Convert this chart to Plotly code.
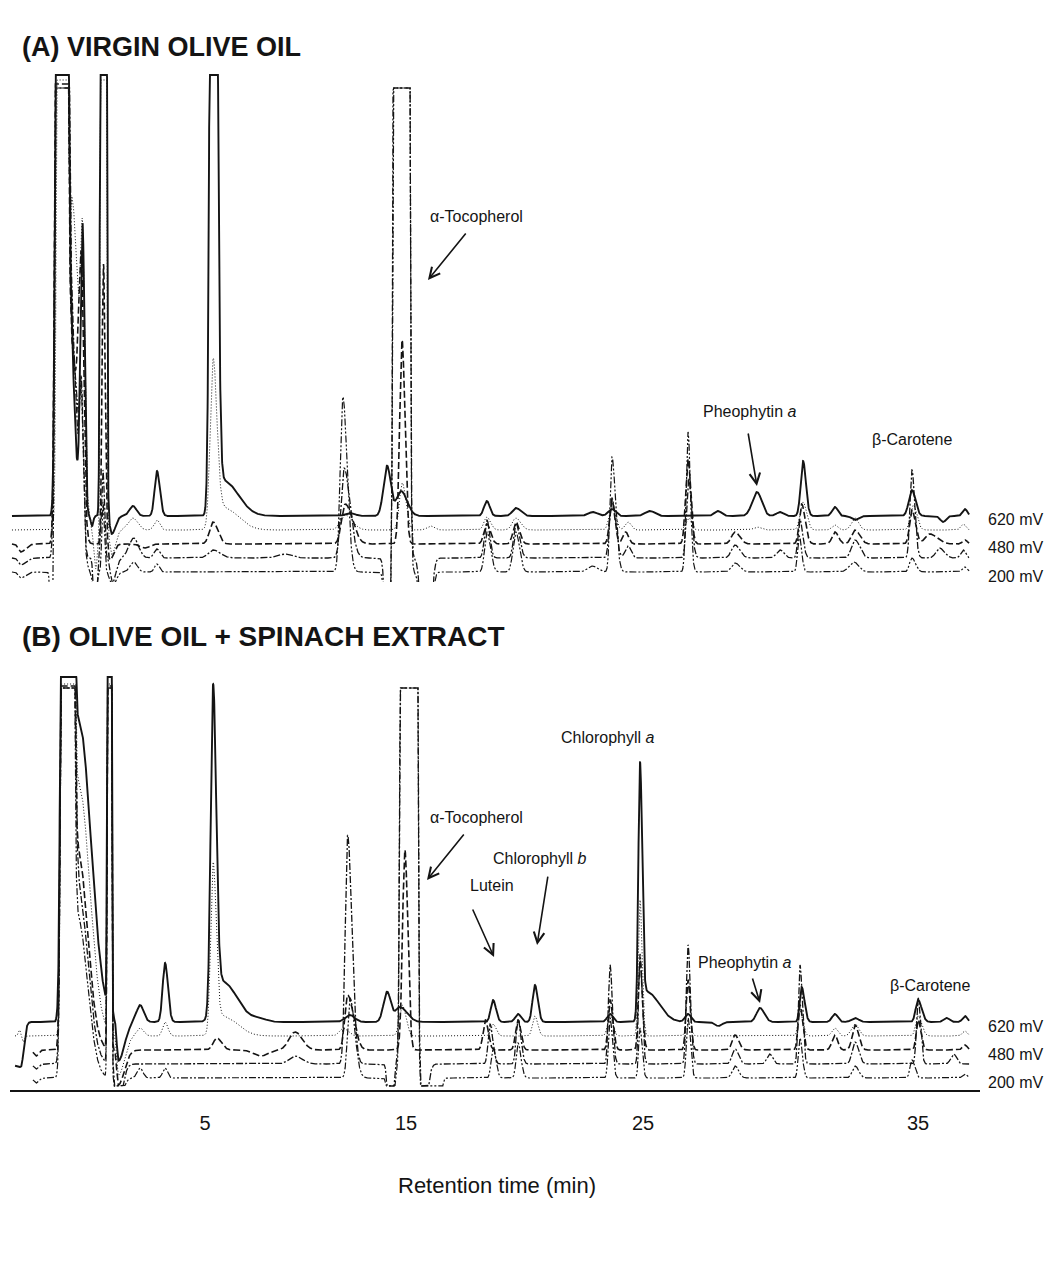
import numpy as np
import plotly.graph_objects as go

# ---------------- data ----------------
# Peaks: (retention position, height, left width, right width); heights in detector units
TRACE_NAMES = ["620 mV (solid)", "dotted", "480 mV (dashed)", "dash-dot", "200 mV (dash-dot-dot)"]

A_BASELINES = [64, 50, 36, 22, 8]
A_CEILINGS = [505, 500, 496, 492, 492]

A_SOLID = [(-1.03, 1e4, 0.11, 0.11), (-0.75, 250, 0.10, 0.20), (-0.15, 290, 0.09, 0.08),
           (0.25, -10, 0.05, 0.05), (0.73, 1e4, 0.06, 0.06), (1.08, -18, 0.08, 0.15),
           (1.97, 10, 0.15, 0.15), (2.98, 45, 0.10, 0.12), (5.34, 1500, 0.10, 0.13),
           (5.80, 35, 0.30, 0.60), (11.1, 3, 0.2, 0.2), (12.66, 50, 0.15, 0.15),
           (13.25, 25, 0.20, 0.25), (16.86, 15, 0.12, 0.12), (18.08, 8, 0.15, 0.20),
           (21.32, 4, 0.2, 0.2), (22.12, 7, 0.15, 0.15), (23.72, 5, 0.2, 0.2),
           (26.58, 5, 0.15, 0.15), (28.22, 24, 0.2, 0.2), (29.19, 4, 0.15, 0.15),
           (30.16, 55, 0.10, 0.12), (31.5, 9, 0.12, 0.12), (32.35, -4, 0.15, 0.15),
           (34.74, 26, 0.13, 0.15), (36.05, -6, 0.12, 0.12), (36.97, 7, 0.10, 0.10)]
A_DOTTED = [(-1.0, 1e4, 0.10, 0.10), (-0.6, 330, 0.10, 0.30), (-0.15, 200, 0.08, 0.08),
            (0.4, -40, 0.08, 0.08), (0.73, 1e4, 0.055, 0.055), (1.08, -25, 0.08, 0.15),
            (1.97, 12, 0.2, 0.2), (2.98, 10, 0.12, 0.12), (5.34, 165, 0.12, 0.16),
            (5.80, 22, 0.30, 0.60), (10.9, 15, 0.2, 0.3), (13.3, 47, 0.12, 0.15),
            (14.5, 4, 0.15, 0.15), (16.86, 13, 0.12, 0.15), (18.08, 12, 0.15, 0.2),
            (22.12, 24, 0.12, 0.15), (22.8, 8, 0.12, 0.12), (25.35, 12, 0.12, 0.12),
            (28.22, 3, 0.15, 0.15), (30.16, 28, 0.12, 0.15), (31.5, 5, 0.12, 0.12),
            (32.35, 12, 0.15, 0.15), (34.8, 25, 0.12, 0.15), (36.9, 6, 0.1, 0.1)]
A_DASHED = [(-2.75, -8, 0.10, 0.20), (-1.05, 1e4, 0.11, 0.12), (-0.65, 200, 0.10, 0.25),
            (-0.2, 250, 0.12, 0.10), (0.73, 280, 0.06, 0.07), (1.0, -16, 0.08, 0.15),
            (2.47, -4, 0.2, 0.2), (5.34, 22, 0.15, 0.20), (10.9, 40, 0.15, 0.30),
            (13.29, 204, 0.10, 0.12), (16.86, 20, 0.12, 0.15), (18.08, 22, 0.12, 0.15),
            (22.12, 44, 0.10, 0.12), (22.7, 12, 0.12, 0.12), (25.32, 85, 0.10, 0.12),
            (27.3, 12, 0.15, 0.2), (30.1, 40, 0.10, 0.15), (31.5, 12, 0.12, 0.15),
            (32.35, 14, 0.15, 0.2), (34.74, 34, 0.10, 0.15), (35.5, 10, 0.2, 0.3),
            (36.97, 4, 0.1, 0.1)]
A_DASHDOT = [(-2.75, -7, 0.10, 0.20), (-1.05, 1e4, 0.11, 0.13), (-0.65, 250, 0.10, 0.22),
             (-0.2, 150, 0.08, 0.08), (0.37, -60, 0.06, 0.08), (0.71, 88, 0.06, 0.06),
             (1.1, -25, 0.08, 0.15), (2.0, 20, 0.2, 0.2), (2.98, 9, 0.12, 0.12),
             (5.34, 8, 0.2, 0.3), (8.37, 4, 0.3, 0.3), (10.85, 90, 0.13, 0.25),
             (12.7, -150, 0.10, 0.08), (13.27, 1e5, 0.11, 0.11), (14.3, -200, 0.15, 0.15),
             (16.86, 38, 0.10, 0.12), (18.08, 35, 0.10, 0.15), (22.12, 60, 0.10, 0.15),
             (22.8, 12, 0.12, 0.12), (25.35, 80, 0.09, 0.12), (27.3, 13, 0.15, 0.2),
             (29.2, 8, 0.15, 0.15), (30.03, 38, 0.08, 0.12), (32.35, 18, 0.15, 0.2),
             (34.74, 88, 0.08, 0.12), (35.9, 10, 0.15, 0.2), (36.9, 8, 0.1, 0.1)]
A_DDOT = [(-2.75, -6, 0.10, 0.20), (-1.45, -100, 0.05, 0.05), (-1.03, 1e4, 0.11, 0.12),
          (-0.6, 230, 0.10, 0.25), (-0.2, 120, 0.08, 0.08), (0.35, -30, 0.07, 0.08),
          (0.71, 70, 0.05, 0.06), (1.1, -15, 0.10, 0.15), (2.0, 10, 0.15, 0.15),
          (2.98, 8, 0.10, 0.10), (10.8, 175, 0.11, 0.18), (12.7, -150, 0.10, 0.08),
          (13.27, 1e5, 0.11, 0.11), (14.3, -200, 0.15, 0.15), (16.86, 40, 0.10, 0.15),
          (18.08, 40, 0.12, 0.15), (21.3, 6, 0.2, 0.2), (22.12, 115, 0.08, 0.15),
          (25.32, 140, 0.08, 0.10), (27.3, 9, 0.15, 0.2), (30.0, 36, 0.07, 0.10),
          (32.3, 10, 0.2, 0.2), (34.74, 14, 0.1, 0.15), (36.97, 5, 0.1, 0.1)]

B_BASELINES = [68, 54, 40, 26, 12]
B_CEILINGS = [413, 406, 404, 402, 402]

B_SOLID = [(-2.75, -45, 1.0, 0.12), (-0.78, 1e4, 0.12, 0.12), (-0.3, 300, 0.2, 0.5),
           (0.98, 1e4, 0.04, 0.04), (1.35, -40, 0.06, 0.25), (2.27, 17, 0.15, 0.15),
           (3.32, 59, 0.10, 0.12), (5.34, 322, 0.10, 0.13), (5.75, 40, 0.3, 0.6),
           (7.3, 3, 0.3, 0.3), (11.1, 7, 0.2, 0.2), (12.66, 30, 0.15, 0.15),
           (13.2, 15, 0.2, 0.3), (17.12, 22, 0.10, 0.12), (18.17, 8, 0.12, 0.12),
           (18.88, 37, 0.10, 0.12), (22.04, 8, 0.12, 0.12), (23.3, 250, 0.07, 0.09),
           (23.6, 30, 0.2, 0.5), (25.32, 8, 0.12, 0.12), (26.6, -4, 0.15, 0.15),
           (28.35, 14, 0.15, 0.18), (30.1, 35, 0.08, 0.12), (31.5, 8, 0.12, 0.12),
           (32.35, 4, 0.15, 0.15), (35.0, 22, 0.10, 0.15), (36.2, 4, 0.12, 0.12),
           (36.97, 6, 0.1, 0.1)]
B_DOTTED = [(-2.8, 6, 0.05, 0.05), (-2.65, -6, 0.05, 0.05), (-0.78, 1e4, 0.11, 0.12),
            (-0.3, 250, 0.2, 0.45), (0.98, 1e4, 0.04, 0.04), (1.35, -40, 0.06, 0.25),
            (2.27, 8, 0.15, 0.15), (3.32, 14, 0.10, 0.12), (5.34, 166, 0.10, 0.13),
            (5.75, 20, 0.3, 0.6), (10.8, 8, 0.15, 0.2), (13.3, 31, 0.12, 0.15),
            (17.12, 12, 0.10, 0.12), (18.88, 20, 0.10, 0.12), (22.04, 20, 0.10, 0.12),
            (23.3, 136, 0.07, 0.09), (25.32, 10, 0.1, 0.12), (30.03, 25, 0.08, 0.12),
            (31.5, 8, 0.12, 0.12), (32.35, 12, 0.15, 0.15), (35.0, 20, 0.10, 0.15),
            (36.97, 5, 0.1, 0.1)]
B_DASHED = [(-2.1, -6, 0.1, 0.1), (-0.8, 1e4, 0.11, 0.12), (-0.35, 200, 0.2, 0.4),
            (0.98, 1e4, 0.04, 0.04), (1.35, -35, 0.06, 0.25), (5.5, 12, 0.15, 0.2),
            (7.35, -6, 0.3, 0.3), (8.79, 18, 0.25, 0.3), (11.0, 55, 0.12, 0.25),
            (13.41, 200, 0.10, 0.12), (16.8, 30, 0.10, 0.12), (18.17, 30, 0.10, 0.12),
            (22.04, 50, 0.08, 0.12), (23.3, 90, 0.07, 0.10), (25.32, 70, 0.08, 0.10),
            (27.3, 15, 0.12, 0.15), (30.03, 45, 0.08, 0.12), (31.5, 15, 0.12, 0.12),
            (32.35, 25, 0.12, 0.15), (35.0, 30, 0.08, 0.12), (36.97, 5, 0.1, 0.1)]
B_DASHDOT = [(-2.1, -5, 0.1, 0.1), (-0.8, 1e4, 0.11, 0.13), (-0.35, 180, 0.2, 0.4),
             (0.98, 1e4, 0.04, 0.04), (1.3, -50, 0.08, 0.2), (8.79, 8, 0.25, 0.3),
             (11.0, 229, 0.10, 0.18), (12.8, -150, 0.08, 0.08), (13.58, 1e5, 0.115, 0.115),
             (14.2, -60, 0.12, 0.15), (16.99, 40, 0.08, 0.12), (18.17, 45, 0.08, 0.12),
             (22.04, 99, 0.07, 0.10), (23.3, 110, 0.06, 0.09), (25.32, 119, 0.07, 0.10),
             (27.3, 15, 0.12, 0.15), (28.76, 10, 0.12, 0.12), (30.03, 99, 0.07, 0.10),
             (32.35, 22, 0.12, 0.15), (35.0, 66, 0.07, 0.10), (36.5, 10, 0.12, 0.12)]
B_DDOT = [(-2.1, -5, 0.1, 0.1), (-0.8, 1e4, 0.11, 0.12), (-0.35, 160, 0.2, 0.4),
          (0.98, 1e4, 0.04, 0.04), (1.3, -30, 0.08, 0.2), (2.27, 10, 0.12, 0.12),
          (3.32, 10, 0.1, 0.1), (11.1, 80, 0.10, 0.20), (12.8, -150, 0.08, 0.08),
          (13.58, 1e5, 0.115, 0.115), (14.7, -200, 0.35, 0.12), (17.12, 30, 0.08, 0.12),
          (18.17, 35, 0.08, 0.12), (22.04, 60, 0.07, 0.10), (23.3, 50, 0.06, 0.09),
          (25.32, 60, 0.07, 0.10), (27.3, 12, 0.12, 0.15), (30.03, 40, 0.07, 0.10),
          (32.35, 12, 0.12, 0.15), (34.74, 18, 0.08, 0.12), (36.97, 4, 0.1, 0.1)]

A_STARTS = [-3.12, -3.12, -3.12, -3.12, -3.12]
B_STARTS = [-2.99, -2.99, -2.24, -2.24, -2.24]
END_T = 37.15

TICK_TEXT = ["5", "15", "25", "35"]
TICK_POS = [5.0, 13.46, 23.43, 35.0]

VOLT_LABELS = ["620 mV", "480 mV", "200 mV"]
A_VOLT_Y = [60, 32, 3]
B_VOLT_Y = [64, 36, 8]

# ---------------- styles ----------------
DASHES = ["solid", "1px,2px", "7px,3px", "7px,2px,2px,2px", "7px,2px,2px,2px,2px,2px"]
WIDTHS = [1.9, 1.0, 1.6, 1.3, 1.2]
INK = "#141414"
FONT = "Liberation Sans, Arial, sans-serif"
LABEL_SIZE = 16


def chromatogram(t, base, peaks, ceil, floor):
    y = np.full_like(t, float(base))
    for t0, h, wl, wr in peaks:
        w = np.where(t < t0, wl, wr)
        y += h * np.exp(-0.5 * ((t - t0) / w) ** 2)
    return np.clip(y, floor, ceil)


fig = go.Figure()

A_PEAKS = [A_SOLID, A_DOTTED, A_DASHED, A_DASHDOT, A_DDOT]
B_PEAKS = [B_SOLID, B_DOTTED, B_DASHED, B_DASHDOT, B_DDOT]

for i in range(5):
    t = np.arange(A_STARTS[i], END_T, 0.005)
    y = chromatogram(t, A_BASELINES[i], A_PEAKS[i], A_CEILINGS[i], -40)
    fig.add_trace(go.Scatter(x=t, y=y, mode="lines", xaxis="x", yaxis="y",
                             line=dict(color=INK, width=WIDTHS[i], dash=DASHES[i]),
                             name=TRACE_NAMES[i], showlegend=False, hoverinfo="skip"))
for i in range(5):
    t = np.arange(B_STARTS[i], END_T, 0.005)
    y = chromatogram(t, B_BASELINES[i], B_PEAKS[i], B_CEILINGS[i], 4)
    fig.add_trace(go.Scatter(x=t, y=y, mode="lines", xaxis="x", yaxis="y2",
                             line=dict(color=INK, width=WIDTHS[i], dash=DASHES[i]),
                             name=TRACE_NAMES[i], showlegend=False, hoverinfo="skip"))

ann = []
txt = dict(font=dict(family=FONT, size=LABEL_SIZE, color=INK), showarrow=False)
arr = dict(text="", showarrow=True, arrowhead=5, arrowsize=1.3, arrowwidth=1.6,
           arrowcolor=INK, standoff=0, axref="pixel", ayref="pixel")

# Panel A labels
ann.append(dict(x=16.44, y=363, xref="x", yref="y", text="α-Tocopherol", **txt))
ann.append(dict(x=14.38, y=300, xref="x", yref="y", ax=39, ay=-48, **arr))
ann.append(dict(x=27.93, y=168, xref="x", yref="y", text="Pheophytin <i>a</i>", **txt))
ann.append(dict(x=28.22, y=94, xref="x", yref="y", ax=-9, ay=-54, **arr))
ann.append(dict(x=34.74, y=140, xref="x", yref="y", text="β-Carotene", **txt))

# Panel B labels
ann.append(dict(x=21.95, y=353, xref="x", yref="y2", text="Chlorophyll <i>a</i>", **txt))
ann.append(dict(x=16.44, y=273, xref="x", yref="y2", text="α-Tocopherol", **txt))
ann.append(dict(x=14.34, y=210, xref="x", yref="y2", ax=38, ay=-47, **arr))
ann.append(dict(x=19.09, y=232, xref="x", yref="y2", text="Chlorophyll <i>b</i>", **txt))
ann.append(dict(x=18.97, y=145, xref="x", yref="y2", ax=11, ay=-70, **arr))
ann.append(dict(x=17.07, y=205, xref="x", yref="y2", text="Lutein", **txt))
ann.append(dict(x=17.16, y=133, xref="x", yref="y2", ax=-22, ay=-49, **arr))
ann.append(dict(x=27.72, y=128, xref="x", yref="y2", text="Pheophytin <i>a</i>", **txt))
ann.append(dict(x=28.35, y=87, xref="x", yref="y2", ax=-8, ay=-26, **arr))
ann.append(dict(x=35.5, y=105, xref="x", yref="y2", text="β-Carotene", **txt))

# Right-hand voltage labels (placed just right of the plotting area)
for yy, lab in zip(A_VOLT_Y, VOLT_LABELS):
    ann.append(dict(x=1.006, y=yy, xref="paper", yref="y", text=lab, xanchor="left", **txt))
for yy, lab in zip(B_VOLT_Y, VOLT_LABELS):
    ann.append(dict(x=1.006, y=yy, xref="paper", yref="y2", text=lab, xanchor="left", **txt))

# Panel titles and axis title
ann.append(dict(x=0.0103, y=0.9725, xref="paper", yref="paper", xanchor="left",
                text="<b>(A) VIRGIN OLIVE OIL</b>", showarrow=False,
                font=dict(family=FONT, size=27, color=INK)))
ann.append(dict(x=0.0103, y=0.4156, xref="paper", yref="paper", xanchor="left",
                text="<b>(B) OLIVE OIL + SPINACH EXTRACT</b>", showarrow=False,
                font=dict(family=FONT, size=28, color=INK)))
ann.append(dict(x=0.502, y=-0.1009, xref="paper", yref="paper",
                text="Retention time (min)", showarrow=False,
                font=dict(family=FONT, size=22, color=INK)))

fig.update_layout(
    width=1045, height=1282,
    margin=dict(l=10, r=65, t=0, b=192),
    paper_bgcolor="white", plot_bgcolor="white",
    showlegend=False,
    xaxis=dict(range=[-3.203, 37.604], anchor="y2", domain=[0, 1],
               showline=True, linecolor=INK, linewidth=1.6,
               showgrid=False, zeroline=False,
               tickmode="array", tickvals=TICK_POS, ticktext=TICK_TEXT,
               ticks="outside", ticklen=14, tickcolor="rgba(0,0,0,0)",
               tickfont=dict(family=FONT, size=20, color=INK)),
    yaxis=dict(domain=[0.46606, 0.93578], range=[-2, 510], visible=False),
    yaxis2=dict(domain=[0, 0.38532], range=[0, 420], visible=False),
    annotations=ann,
)

fig.write_html("out.html")
